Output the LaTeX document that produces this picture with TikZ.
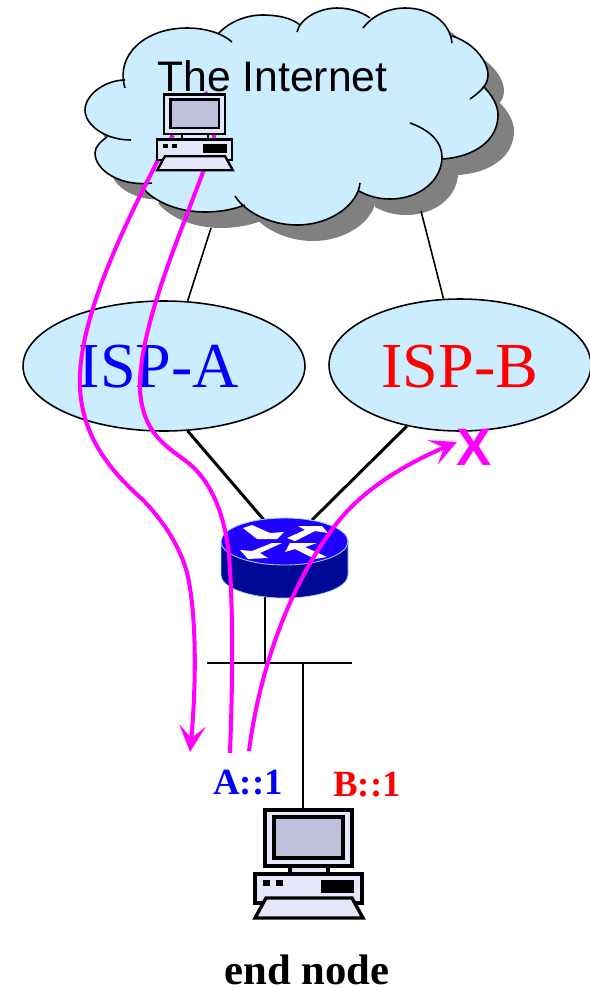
\documentclass[tikz,border=0pt]{standalone}
\usepackage{fontspec}
\setmainfont{Liberation Serif}
\setsansfont{Liberation Sans}
\usepackage{xcolor}
\usetikzlibrary{shapes.geometric,arrows.meta}

\definecolor{nubeclara}{RGB}{204,236,255}
\definecolor{sombra}{RGB}{128,128,128}
\definecolor{pcclaro}{RGB}{230,230,250}
\definecolor{pantalla}{RGB}{192,192,220}
\definecolor{azultapa}{RGB}{32,0,255}
\definecolor{routeroscuro}{RGB}{0,8,150}
\definecolor{borderouter}{RGB}{150,210,255}
\definecolor{rosaruta}{RGB}{255,0,255}

\tikzset{
    ispnode/.style={draw,ellipse,fill=nubeclara,line width=0.9pt,minimum width=5.64cm,minimum height=2.6cm,inner sep=0pt},
    isptxt/.style={font=\fontsize{36.5}{36.5}\selectfont,inner sep=0pt},
    dirtxt/.style={font=\bfseries\fontsize{21}{21}\selectfont,inner sep=0pt},
    enlace/.style={line width=1.7pt},
    fino/.style={line width=0.9pt},
    rutalibre/.style={rosaruta,line width=2.3pt},
    ruta/.style={rutalibre,-{Stealth[length=15pt,width=15pt,inset=7pt]}}
}

% lobulos de la nube, #1 une cada lobulo con el siguiente
\newcommand{\lobulos}[1]{
    (125,88) .. controls (115,55) and (145,28) .. (187,28) .. controls (205,28) and (222,33) .. (232,42)
    #1 (219,33) .. controls (230,21) and (248,15) .. (262,15) .. controls (278,15) and (292,18) .. (300,25)
    #1 (297,32) .. controls (300,18) and (320,8) .. (337,8) .. controls (350,8) and (362,12) .. (370,18)
    #1 (363,28) .. controls (372,16) and (388,8) .. (405,8) .. controls (430,8) and (450,22) .. (452,43)
    #1 (452,36) .. controls (472,42) and (488,60) .. (488,75) .. controls (488,85) and (480,92) .. (470,99)
    #1 (483,86) .. controls (492,95) and (498,105) .. (498,115) .. controls (498,140) and (475,157) .. (442,159)
    #1 (410,123) .. controls (430,130) and (442,142) .. (442,157) .. controls (442,180) and (420,199) .. (390,199) .. controls (378,199) and (368,196) .. (359,191)
    #1 (360,183) .. controls (358,205) and (330,225) .. (297,225) .. controls (270,225) and (245,212) .. (235,196)
    #1 (245,205) .. controls (232,210) and (218,212) .. (205,212) .. controls (180,212) and (155,203) .. (142,187)
    #1 (152,183) .. controls (120,187) and (95,170) .. (95,153) .. controls (95,147) and (100,142) .. (107,137)
    #1 (131,140) .. controls (105,140) and (85,125) .. (85,110) .. controls (85,95) and (105,80) .. (125,80)
}

% computador: #1 posicion, #2 escala, #3 nombre
\newcommand{\computador}[3]{
    \begin{scope}[shift={#1},scale=#2,line width=#2*1.9pt]
        \draw[fill=pcclaro] (-44,-47) rectangle (43,9);
        \draw[fill=pantalla] (-35,-40) rectangle (34,1);
        \draw[fill=pcclaro] (-19,9) rectangle (19,17);
        \draw[fill=pcclaro] (-54,17) rectangle (53,46);
        \fill[black] (-46,23) rectangle (-39,29);
        \fill[black] (-33,23) rectangle (-26,29);
        \fill[black] (12,23) rectangle (45,36);
        \draw[fill=pcclaro] (-43,41) -- (43,41) -- (54,61) -- (-54,61) -- cycle;
        \coordinate (#3) at (0,-47);
    \end{scope}
}

\begin{document}
\begin{tikzpicture}[x=0.02cm,y=-0.02cm]
    \useasboundingbox (0,0) rectangle (589,988);

    % Paso 1: sombra y relleno de la nube
    \fill[sombra,shift={(16,16)}] \lobulos{--} -- cycle;
    \fill[nubeclara] \lobulos{--} -- cycle;
    \draw[line width=0.9pt] \lobulos{};
    \node[font=\sffamily\fontsize{24.3}{24.3}\selectfont,anchor=base west,inner sep=0pt] (internet) at (157,91) {The Internet};

    % Paso 2: los ISP
    \node[ispnode] (ispa) at (164,366) {};
    \node[isptxt,text=blue] (ispatxt) at (159,367) {ISP-A};
    \node[ispnode,minimum width=5.24cm,minimum height=2.64cm] (ispb) at (460,365) {};
    \node[isptxt,text=red] (ispbtxt) at (460,367) {ISP-B};

    % Paso 3: computador final y puntos de enlace
    \computador{(309,857)}{1}{pcfinal}
    \coordinate (nubea) at (211,228);
    \coordinate (nubeb) at (421,211);
    \coordinate (routera) at (264,520);
    \coordinate (routerb) at (312,520);
    \coordinate (routerc) at (265,597);
    \coordinate (busa) at (207,663);
    \coordinate (busb) at (352,663);
    \coordinate (busc) at (265,663);
    \coordinate (busd) at (303,663);

    % Paso 4: enlaces
    \draw[fino] (nubea) -- (ispa.70);
    \draw[fino] (nubeb) -- (ispb.104);
    \draw[enlace] (ispa.-70) -- (routera);
    \draw[enlace] (ispb.229) -- (routerb);
    \draw[fino] (routerc) -- (busc);
    \draw[fino] (busa) -- (busb);
    \draw[fino] (busd) -- (busd |- pcfinal);

    % Paso 5: router
    \fill[routeroscuro,draw=borderouter,line width=0.4pt] (221,541) -- (221,575) arc[start angle=180,end angle=0,x radius=63.5,y radius=23] -- (348,541) -- cycle;
    \fill[azultapa,draw=borderouter,line width=0.5pt] (284.5,541.5) ellipse[x radius=63.5,y radius=23.5];
    \fill[white] (243,528) -- (252,525) -- (270,533) -- (284,532) -- (277,539) -- (257,539) -- cycle;
    \fill[white] (287,538) -- (305,530) -- (298,526) -- (322,526) -- (328,533) -- (315,531) -- (295,541) -- cycle;
    \fill[white] (240,550) -- (252,551) -- (272,543) -- (282,543) -- (260,553) -- (268,558) -- (248,559) -- cycle;
    \fill[white] (285,552) -- (290,543) -- (317,543) -- (305,547) -- (327,557) -- (315,559) -- (295,549) -- cycle;

    % Paso 6: rutas
    \draw[rutalibre] (173,135) .. controls (165,148) .. (158,160);
    \draw[ruta] (158,160) .. controls (125,225) and (77,320) .. (80,387)
        .. controls (82,440) and (115,475) .. (143,500)
        .. controls (170,528) and (183,555) .. (188,577)
        .. controls (198,625) and (195,700) .. (190,752);
    \draw[rutalibre] (205,92) .. controls (222,120) and (215,140) .. (203,172);
    \draw[rutalibre] (203,172) .. controls (180,235) and (138,330) .. (140,390)
        .. controls (143,440) and (175,450) .. (193,467)
        .. controls (215,488) and (225,520) .. (229,555)
        .. controls (234,620) and (232,700) .. (230,753);
    \draw[ruta] (249,751) .. controls (258,680) and (285,590) .. (337,523)
        .. controls (365,487) and (410,462) .. (457,442);

    % Paso 7: X y etiquetas
    \node[font=\sffamily\bfseries\fontsize{30}{30}\selectfont,text=rosaruta,inner sep=0pt] (cruz) at (474,447) {X};
    \node[dirtxt,text=blue] (dira) at (248,783) {A::1};
    \node[dirtxt,text=red] (dirb) at (367,785) {B::1};
    \node[font=\bfseries\fontsize{24.3}{24.3}\selectfont,inner sep=0pt] (nombre) at (307,970) {end node};

    % Paso 8: computador de la nube
    \computador{(195,127.5)}{0.7}{pcinternet}
\end{tikzpicture}
\end{document}
